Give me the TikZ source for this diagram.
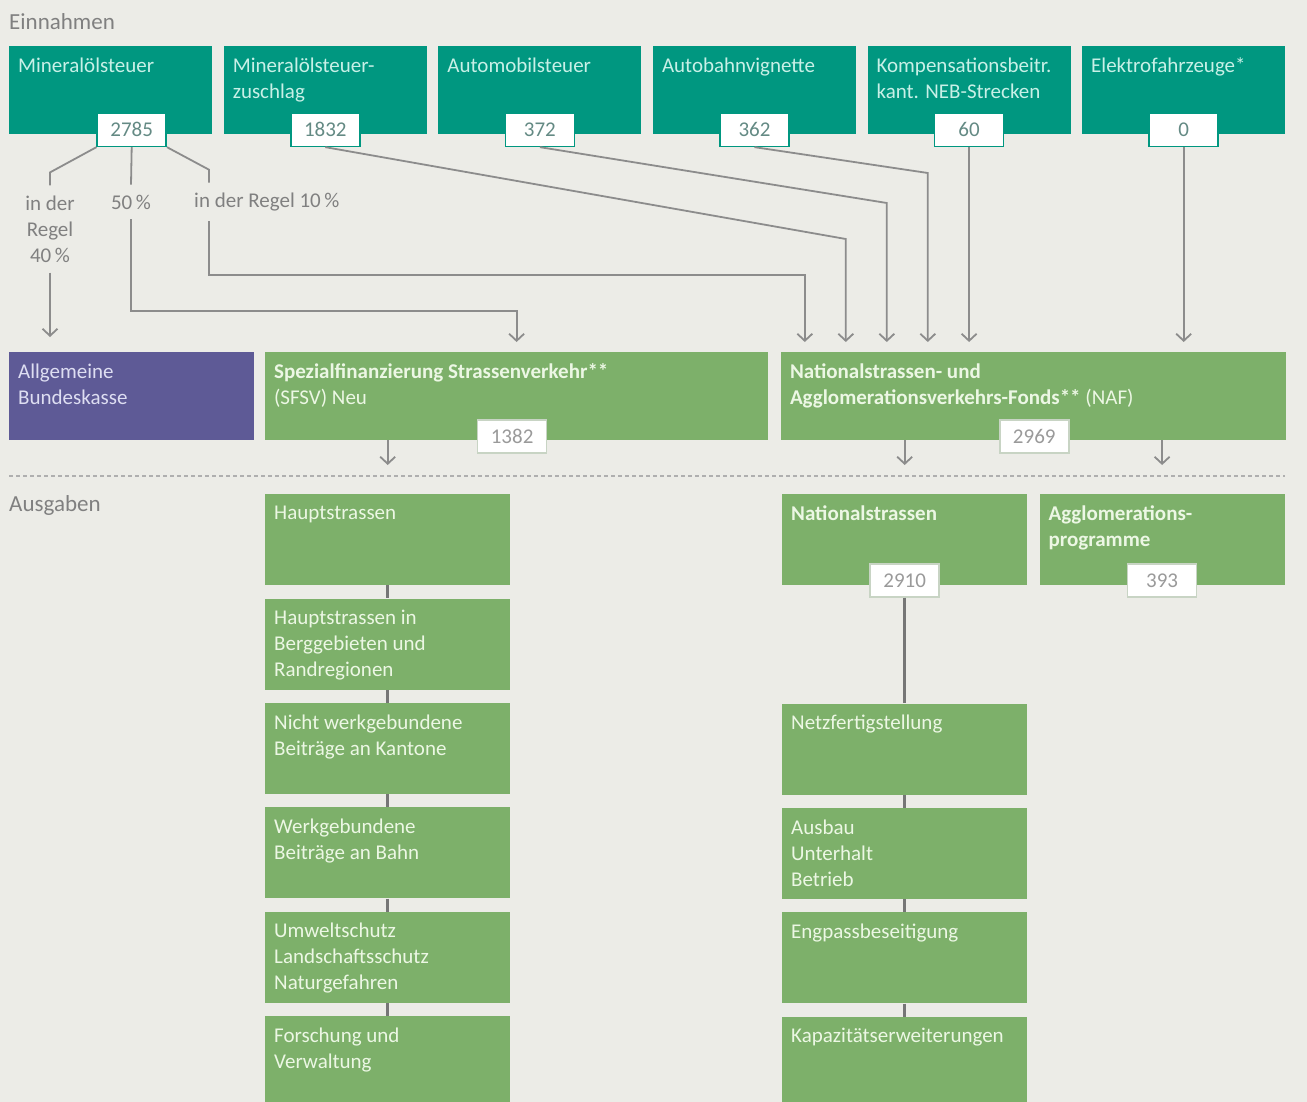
\documentclass[tikz,border=0pt]{standalone}
\usepackage{fontspec}
\setmainfont{Carlito}
\usepackage{tikz}
\usetikzlibrary{arrows.meta,positioning}

\definecolor{bgcol}{RGB}{236,236,231}
\definecolor{tealbox}{RGB}{0,151,128}
\definecolor{tealtext}{RGB}{200,240,231}
\definecolor{greenbox}{RGB}{125,176,106}
\definecolor{greentext}{RGB}{236,247,228}
\definecolor{purplebox}{RGB}{94,90,150}
\definecolor{purpletext}{RGB}{222,222,242}
\definecolor{linegray}{RGB}{140,140,140}
\definecolor{jointgray}{RGB}{118,118,118}
\definecolor{labelgray}{RGB}{128,128,128}
\definecolor{valtext}{RGB}{100,138,132}
\definecolor{valborder}{RGB}{200,212,196}

\newcommand{\fsbox}{\fontsize{21}{26}\selectfont}
\newcommand{\fshead}{\fontsize{23}{28}\selectfont}

\begin{document}
\begin{tikzpicture}[
      x = 1pt, y = -1pt, % pixel grid, y pointing down
      > = {Straight Barb[length=7pt, width=15pt]}, % open arrow head
      topbox/.style = {fill=tealbox, anchor=north west, minimum width=203pt,
                       minimum height=88pt, inner sep=0pt},
      midbox/.style = {anchor=north west, minimum height=88pt, inner sep=0pt},
      lowbox/.style = {fill=greenbox, anchor=north west, minimum width=245pt,
                       minimum height=91pt, inner sep=0pt},
      boxtxt/.style = {anchor=north west, inner sep=0pt, align=left,
                       font=\fsbox, xshift=9pt, yshift=-11.5pt},
      ttl/.style = {boxtxt, text=tealtext},
      gtl/.style = {boxtxt, text=greentext},
      ptl/.style = {boxtxt, text=purpletext},
      val/.style = {draw=tealbox, fill=white, line width=1.5pt, text=valtext,
                    font=\fsbox, minimum width=69pt, minimum height=33pt, inner sep=0pt},
      gval/.style = {val, draw=valborder, text=labelgray!80},
      share/.style = {text=labelgray, font=\fsbox, inner xsep=0pt, inner ysep=10pt},
      section/.style = {anchor=west, inner sep=0pt, text=labelgray, font=\fshead},
      link/.style = {draw=linegray, line width=1.8pt},
      flow/.style = {link, ->, shorten >=10pt},
      joint/.style = {draw=jointgray, line width=2.5pt},
      divider/.style = {draw=linegray!70, line width=1.2pt, dash pattern=on 4pt off 3pt}
      ]

  \useasboundingbox (0,0) rectangle (1307,1102);
  \fill[bgcol] (0,0) rectangle (1307,1102);

  % Einnahmen
  \node[section] (ein) at (9,21.5) {Einnahmen};

  \node[topbox, label={[ttl]north west:Mineralölsteuer}] (min) at (9,46) {};
  \node[topbox, right=11.2pt of min, label={[ttl]north west:{Mineralölsteuer-\\zuschlag}}] (zus) {};
  \node[topbox, right=11.2pt of zus, label={[ttl]north west:Automobilsteuer}] (auto) {};
  \node[topbox, right=11.2pt of auto, label={[ttl]north west:Autobahnvignette}] (vig) {};
  \node[topbox, right=11.2pt of vig, label={[ttl]north west:{Kompensationsbeitr.\\kant. NEB-Strecken}}] (komp) {};
  \node[topbox, right=11.2pt of komp, label={[ttl]north west:Elektrofahrzeuge*}] (elek) {};

  \node[val] (v1) at ([xshift=21pt, yshift=4.5pt]min.south) {2785};
  \node[val] (v2) at ([yshift=4.5pt]zus.south) {1832};
  \node[val] (v3) at ([yshift=4.5pt]auto.south) {372};
  \node[val] (v4) at ([yshift=4.5pt]vig.south) {362};
  \node[val] (v5) at ([yshift=4.5pt]komp.south) {60};
  \node[val] (v6) at ([yshift=4.5pt]elek.south) {0};

  % Fonds
  \node[midbox, fill=purplebox, minimum width=245pt,
        label={[ptl]north west:{Allgemeine\\Bundeskasse}}] (bund) at (9,352) {};
  \node[midbox, fill=greenbox, minimum width=503pt, right=10.5pt of bund,
        label={[gtl]north west:{\textbf{Spezialfinanzierung Strassenverkehr**}\\(SFSV) Neu}}] (sfsv) {};
  \node[midbox, fill=greenbox, minimum width=504.5pt, right=12.5pt of sfsv,
        label={[gtl]north west:{\textbf{Nationalstrassen- und}\\\textbf{Agglomerationsverkehrs-Fonds**} (NAF)}}] (naf) {};
  \node[gval] (v1382) at ([xshift=-4.5pt, yshift=4pt]sfsv.south) {1382};
  \node[gval] (v2969) at ([xshift=1pt, yshift=4pt]naf.south) {2969};

  % Aufteilung Mineraloelsteuer
  \node[share, align=center] (l40) at (50,229) {in der\\Regel\\40\,\%};
  \node[share] (l50) at (131,202) {50\,\%};
  \node[share, anchor=west] (l10) at (194,202) {in der Regel 10\,\%};

  \draw[link] (v1.south west) -- ([yshift=13pt]l40.north) -- (l40.north);
  \draw[flow, shorten >=15pt] (l40.south) -- (l40.south |- bund.north);
  \draw[link] (v1.south) -- (l50.north);
  \draw[flow] (l50.south) |- ([yshift=41pt]sfsv.north) -- (sfsv.north);
  \draw[link] (v1.south east) -- ([xshift=15pt, yshift=13pt]l10.north west) -- ([xshift=15pt]l10.north west);
  \draw[flow] ([xshift=15pt]l10.south west) |- ([xshift=24pt, yshift=77pt]naf.north west) -- ([xshift=24pt]naf.north west);

  \draw[flow] (v2.south) -- ([xshift=65pt, yshift=113pt]naf.north west) -- ([xshift=65pt]naf.north west);
  \draw[flow] (v3.south) -- ([xshift=106pt, yshift=149pt]naf.north west) -- ([xshift=106pt]naf.north west);
  \draw[flow] (v4.south) -- ([xshift=147pt, yshift=179pt]naf.north west) -- ([xshift=147pt]naf.north west);
  \draw[flow] (v5.south) -- (v5.south |- naf.north);
  \draw[flow] (v6.south) -- (v6.south |- naf.north);

  % Ausgaben
  \draw[divider] (9,476) -- (1285,476);
  \node[section] (aus) at (9,505) {Ausgaben};

  \node[lowbox, label={[gtl]north west:Hauptstrassen}] (hs) at (265,494) {};
  \node[lowbox, below=13pt of hs, label={[gtl]north west:{Hauptstrassen in\\Berggebieten und\\Randregionen}}] (hsb) {};
  \node[lowbox, below=13pt of hsb, label={[gtl]north west:{Nicht werkgebundene\\Beiträge an Kantone}}] (nwb) {};
  \node[lowbox, below=13pt of nwb, label={[gtl]north west:{Werkgebundene\\Beiträge an Bahn}}] (wb) {};
  \node[lowbox, below=13pt of wb, label={[gtl]north west:{Umweltschutz\\Landschaftsschutz\\Naturgefahren}}] (umw) {};
  \node[lowbox, below=13pt of umw, label={[gtl]north west:{Forschung und\\Verwaltung}}] (fov) {};

  \node[lowbox, label={[gtl]north west:\textbf{Nationalstrassen}}] (nat) at (782,494) {};
  \node[lowbox, right=12pt of nat, label={[gtl]north west:{\textbf{Agglomerations-}\\\textbf{programme}}}] (agg) {};
  \node[gval] (v2910) at ([yshift=5pt]nat.south) {2910};
  \node[gval] (v393) at ([yshift=5pt]agg.south) {393};

  \node[lowbox, below=118pt of nat, label={[gtl]north west:Netzfertigstellung}] (netz) {};
  \node[lowbox, below=13pt of netz, label={[gtl]north west:{Ausbau\\Unterhalt\\Betrieb}}] (aub) {};
  \node[lowbox, below=13pt of aub, label={[gtl]north west:Engpassbeseitigung}] (eng) {};
  \node[lowbox, below=13pt of eng, label={[gtl]north west:Kapazitätserweiterungen}] (kap) {};

  \draw[flow, shorten >=29pt] (hs.north |- sfsv.south) -- (hs.north);
  \draw[flow, shorten >=29pt] (nat.north |- naf.south) -- (nat.north);
  \draw[flow, shorten >=29pt] (agg.north |- naf.south) -- (agg.north);

  \draw[joint] (hs) -- (hsb);
  \draw[joint] (hsb) -- (nwb);
  \draw[joint] (nwb) -- (wb);
  \draw[joint] (wb) -- (umw);
  \draw[joint] (umw) -- (fov);

  \draw[joint] (v2910) -- (netz);
  \draw[joint] (netz) -- (aub);
  \draw[joint] (aub) -- (eng);
  \draw[joint] (eng) -- (kap);

\end{tikzpicture}
\end{document}
